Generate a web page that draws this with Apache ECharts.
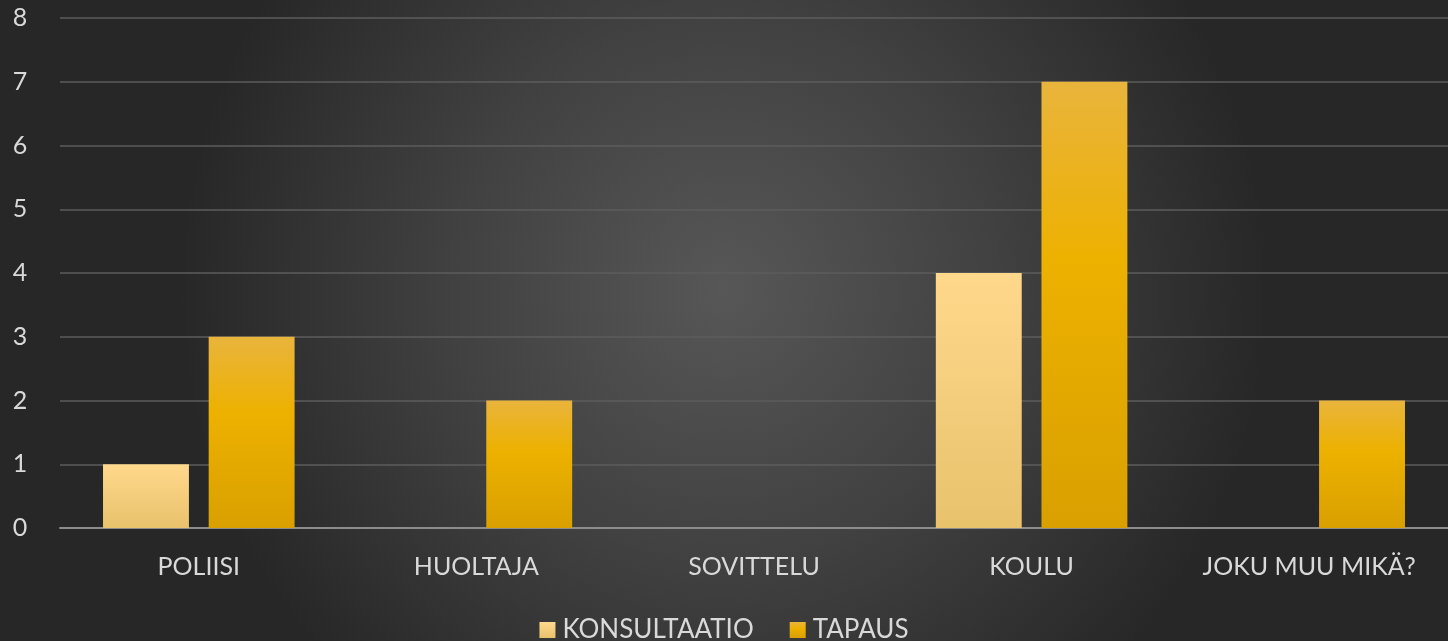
<!DOCTYPE html>
<html>
<head>
<meta charset="utf-8">
<script src="https://cdn.jsdelivr.net/npm/echarts@6/dist/echarts.min.js"></script>
<style>
  html, body { margin: 0; padding: 0; }
  #chart { width: 1448px; height: 641px; }
</style>
</head>
<body>
<div id="chart"></div>
<script type="text/javascript">
    var categories = ['POLIISI', 'HUOLTAJA', 'SOVITTELU', 'KOULU', 'JOKU MUU MIKÄ?'];
    var konsultaatio = [1, 0, 0, 4, 0];
    var tapaus = [3, 2, 0, 7, 2];

    var chart = echarts.init(document.getElementById('chart'));

    var bg = new echarts.graphic.RadialGradient(0.5, 0.45, 0.85, [
        { offset: 0, color: '#575757' },
        { offset: 0.5, color: '#414141' },
        { offset: 1, color: '#272727' }
    ]);
    var konsColor = new echarts.graphic.LinearGradient(0, 0, 0, 1, [
        { offset: 0, color: '#ffd88c' },
        { offset: 1, color: '#e9c26c' }
    ]);
    var tapColor = new echarts.graphic.LinearGradient(0, 0, 0, 1, [
        { offset: 0, color: '#e9b43c' },
        { offset: 0.4, color: '#edb100' },
        { offset: 1, color: '#d9a000' }
    ]);

    // chart options
    var option = {
        backgroundColor: bg,
        textStyle: { fontFamily: 'Lato' },
        grid: { left: 60, right: 0, top: 18, bottom: 113 },
        legend: {
            top: 612,
            left: 'center',
            itemWidth: 16,
            itemHeight: 16,
            itemGap: 36,
            icon: 'rect',
            textStyle: { color: '#d9d9d9', fontSize: 26, fontFamily: 'Lato', padding: [0, 0, 0, 2] },
            data: ['KONSULTAATIO', 'TAPAUS']
        },
        xAxis: {
            type: 'category',
            data: categories,
            axisTick: { show: false },
            axisLine: { lineStyle: { color: '#8c8c8c', width: 2 } },
            axisLabel: { color: '#d9d9d9', fontSize: 25, margin: 26, interval: 0 }
        },
        yAxis: {
            type: 'value',
            min: 0,
            max: 8,
            interval: 1,
            axisLine: { show: false },
            axisTick: { show: false },
            axisLabel: { color: '#d9d9d9', fontSize: 25, margin: 40, align: 'center' },
            splitLine: { lineStyle: { color: '#5c5c5c', width: 1.5 } }
        },
        series: [{
            name: 'KONSULTAATIO',
            type: 'bar',
            data: konsultaatio,
            barGap: '23%',
            barCategoryGap: '31%',
            itemStyle: { color: konsColor }
        }, {
            name: 'TAPAUS',
            type: 'bar',
            data: tapaus,
            barGap: '23%',
            barCategoryGap: '31%',
            itemStyle: { color: tapColor }
        }]
    };

    chart.setOption(option);
</script>
</body>
</html>
